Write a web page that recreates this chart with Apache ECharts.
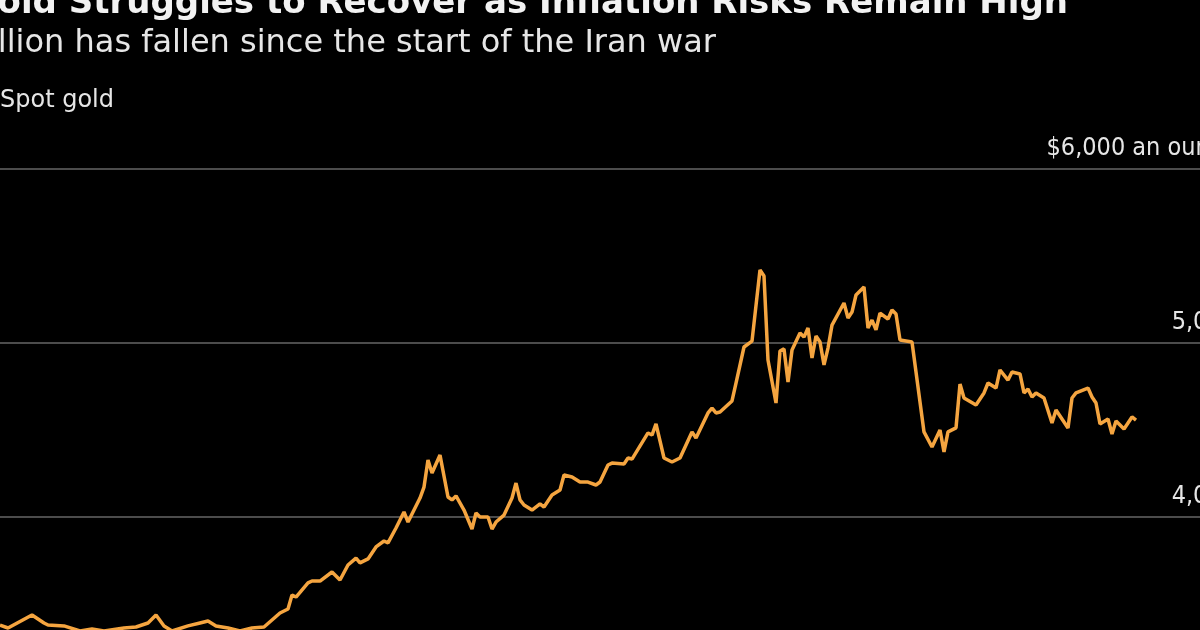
<!DOCTYPE html>
<html>
<head>
<meta charset="utf-8">
<script src="https://cdn.jsdelivr.net/npm/echarts@6/dist/echarts.min.js"></script>
<style>
  html, body { margin: 0; padding: 0; background: #000; overflow: hidden; width: 1200px; height: 630px; }
  /* the chart is wider and taller than the window, the picture is a crop of it */
  #chart { width: 1240px; height: 700px; }
</style>
</head>
<body>
<div id="chart"></div>
<script>
// spot gold, trading-day index
var days = [0, 2, 8, 11, 12, 16, 20, 23, 26, 31, 34, 37, 39, 41, 43, 47, 50, 52, 54, 57,
    60, 63, 66, 68, 70, 72, 73, 74, 77, 78, 80, 83, 85, 87, 89, 90, 92, 94, 96, 97,
    99, 101, 102, 105, 106, 107, 108, 110, 112, 113, 114, 116, 118, 119, 120, 122, 123, 124, 126, 128,
    129, 130, 131, 133, 135, 136, 138, 140, 141, 143, 145, 147, 149, 150, 152, 153, 156, 157, 158, 162,
    163, 164, 166, 168, 170, 173, 174, 177, 178, 179, 180, 183, 184, 186, 188, 190, 191, 192, 194, 195,
    196, 197, 198, 200, 201, 202, 203, 204, 205, 206, 207, 208, 211, 212, 213, 214, 216, 217, 218, 219,
    220, 222, 223, 224, 225, 228, 231, 233, 235, 236, 237, 239, 240, 241, 244, 246, 247, 249, 250, 252,
    253, 255, 256, 257, 258, 259, 261, 263, 264, 267, 268, 269, 272, 273, 274, 275, 277, 278, 279, 281,
    283, 284];

var prices = [3379, 3362, 3437, 3391, 3379, 3374, 3345, 3356, 3345, 3362, 3368, 3391, 3437, 3374, 3345, 3374, 3391, 3402, 3374, 3362,
    3345, 3362, 3368, 3408, 3448, 3471, 3552, 3540, 3621, 3632, 3632, 3684, 3638, 3724, 3764, 3736, 3759, 3828, 3862, 3851,
    3937, 4029, 3971, 4109, 4172, 4328, 4253, 4356, 4115, 4098, 4121, 4040, 3931, 4023, 4000, 4000, 3931, 3971, 4011, 4109,
    4195, 4098, 4069, 4040, 4075, 4057, 4126, 4155, 4241, 4230, 4201, 4201, 4184, 4201, 4299, 4310, 4305, 4339, 4333, 4483,
    4471, 4535, 4339, 4316, 4339, 4489, 4454, 4598, 4626, 4598, 4603, 4667, 4770, 4977, 5011, 5420, 5385, 4902, 4655, 4954,
    4966, 4776, 4960, 5057, 5034, 5086, 4914, 5040, 5006, 4874, 4971, 5103, 5230, 5144, 5178, 5276, 5322, 5086, 5132, 5075,
    5172, 5138, 5190, 5167, 5017, 5006, 4489, 4402, 4500, 4374, 4489, 4512, 4764, 4684, 4644, 4713, 4770, 4741, 4845, 4787,
    4833, 4822, 4713, 4736, 4690, 4713, 4684, 4540, 4615, 4512, 4684, 4713, 4741, 4690, 4655, 4535, 4563, 4477, 4552, 4506,
    4575, 4557];

var yTicks = [3000, 4000, 5000, 6000];

var titleText = 'Gold Struggles to Recover as Inflation Risks Remain High';
var subtitleText = 'Bullion has fallen since the start of the Iran war';
var seriesName = 'Spot gold';

var font = '"DejaVu Sans", sans-serif';
var labelFont = '"DejaVu Sans Condensed", "DejaVu Sans", sans-serif';

var seriesData = days.map(function (d, i) {
    return [d, prices[i]];
});

var myChart = echarts.init(document.getElementById('chart'));
var option = {
    backgroundColor: '#000',
    animation: false,
    grid: { left: 0, right: 0, top: 169, bottom: 9 },
    graphic: [{
        type: 'text', x: 1068, y: 4,
        style: { text: titleText, fill: '#f2f2f2', fontSize: 34, fontWeight: 'bold', fontFamily: font, align: 'right', verticalAlign: 'middle' }
    }, {
        type: 'text', x: 716, y: 44,
        style: { text: subtitleText, fill: '#e6e6e6', fontSize: 32, fontFamily: font, align: 'right', verticalAlign: 'middle' }
    }, {
        type: 'text', x: 0, y: 101,
        style: { text: seriesName, fill: '#e6e6e6', fontSize: 24, fontFamily: font, align: 'left', verticalAlign: 'middle' }
    }],
    xAxis: { type: 'value', min: 0, max: 310, show: false },
    yAxis: {
        type: 'value',
        position: 'right',
        min: yTicks[0],
        max: yTicks[yTicks.length - 1],
        interval: 1000,
        axisLine: { show: false },
        axisTick: { show: false },
        splitLine: { lineStyle: { color: '#666', width: 1.5 } },
        axisLabel: {
            inside: true,
            align: 'right',
            verticalAlign: 'bottom',
            margin: 4,
            padding: [0, 0, 8, 0],
            color: '#e6e6e6',
            fontSize: 25,
            fontFamily: labelFont,
            formatter: function (v) {
                var s = v.toLocaleString('en-US');
                return v === 6000 ? '$' + s + ' an ounce' : s;
            }
        }
    },
    series: [{
        type: 'line',
        name: seriesName,
        data: seriesData,
        showSymbol: false,
        lineStyle: { color: '#f5a540', width: 3.5 },
        z: 5
    }]
};

option && myChart.setOption(option);
</script>
</body>
</html>
